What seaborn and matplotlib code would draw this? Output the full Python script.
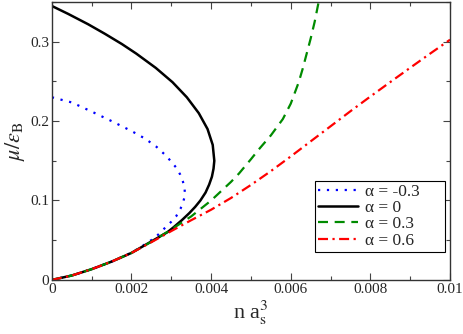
import matplotlib
matplotlib.use("Agg")
import matplotlib.pyplot as plt
from matplotlib.ticker import MultipleLocator, FormatStrFormatter
import seaborn as sns

# curves (n a_s^3, mu/eps_B)
x_m03 = [0, 0.0005, 0.001, 0.0015, 0.002, 0.00234, 0.00263, 0.00288, 0.00312, 0.00322, 0.00329,
         0.00333, 0.00334, 0.00333, 0.0033, 0.00323, 0.00312, 0.003, 0.0028, 0.0026, 0.0023,
         0.002, 0.0015, 0.001, 0.0005, 0]
y_m03 = [0.230, 0.2235, 0.212, 0.200, 0.1875, 0.178, 0.1675, 0.1558, 0.1416, 0.133, 0.124,
         0.117, 0.110, 0.104, 0.0985, 0.0895, 0.080, 0.0733, 0.0635, 0.0535, 0.0435,
         0.0342, 0.023, 0.0135, 0.0055, 0]

x_0 = [0, 0.00041, 0.00091, 0.00133, 0.00176, 0.00212, 0.00261, 0.00303, 0.00339, 0.00369,
       0.00391, 0.00404, 0.00408, 0.00406, 0.00402, 0.00395, 0.00386, 0.00373, 0.0036, 0.00345,
       0.00326, 0.00305, 0.0029, 0.00245, 0.002, 0.0015, 0.001, 0.0005, 0]
y_0 = [0.345, 0.335, 0.322, 0.310, 0.297, 0.285, 0.267, 0.249, 0.230, 0.210,
       0.190, 0.170, 0.150, 0.140, 0.130, 0.120, 0.110, 0.100, 0.092, 0.084,
       0.075, 0.066, 0.060, 0.047, 0.034, 0.023, 0.0135, 0.0055, 0]

x_03 = [0, 0.0005, 0.001, 0.0015, 0.002, 0.0025, 0.003, 0.0035, 0.004, 0.0045, 0.0047, 0.005,
        0.0052, 0.0055, 0.0058, 0.006, 0.0062, 0.0063, 0.0064, 0.0065, 0.0066, 0.0067, 0.00675]
y_03 = [0, 0.0055, 0.0135, 0.023, 0.034, 0.048, 0.0635, 0.080, 0.100, 0.1235, 0.134, 0.152,
        0.1645, 0.182, 0.2025, 0.222, 0.249, 0.266, 0.285, 0.304, 0.325, 0.350, 0.363]

x_06 = [0, 0.0005, 0.001, 0.0015, 0.002, 0.0025, 0.003, 0.0035, 0.004, 0.0045, 0.005, 0.0055,
        0.006, 0.0065, 0.007, 0.0075, 0.008, 0.0085, 0.009, 0.0095, 0.01]
y_06 = [0, 0.0055, 0.0135, 0.023, 0.034, 0.0475, 0.0615, 0.0752, 0.0884, 0.1032, 0.1196, 0.137,
        0.1555, 0.1745, 0.1935, 0.2125, 0.231, 0.2492, 0.2672, 0.285, 0.3025]

labels = ["\u03b1 = -0.3", "\u03b1 = 0", "\u03b1 = 0.3", "\u03b1 = 0.6"]

sns.set_style("ticks")
plt.rcParams["font.family"] = ["Liberation Serif", "DejaVu Serif"]
plt.rcParams["mathtext.fontset"] = "stix"

fig, ax = plt.subplots(figsize=(4.63, 3.34), dpi=100)
fig.subplots_adjust(left=0.112, right=0.972, bottom=0.162, top=0.994)

sns.lineplot(x=x_m03, y=y_m03, sort=False, estimator=None, ax=ax, color="#0000ff",
             linewidth=1.6, linestyle=(0, (1, 3)), label=labels[0])
sns.lineplot(x=x_0, y=y_0, sort=False, estimator=None, ax=ax, color="black",
             linewidth=1.8, linestyle="-", label=labels[1])
sns.lineplot(x=x_03, y=y_03, sort=False, estimator=None, ax=ax, color="#008b00",
             linewidth=1.6, linestyle=(0, (4.5, 3)), label=labels[2])
sns.lineplot(x=x_06, y=y_06, sort=False, estimator=None, ax=ax, color="#ff0000",
             linewidth=1.6, linestyle=(0, (4.5, 2, 1, 2)), label=labels[3])

ax.set_xlim(0, 0.01)
ax.set_ylim(0, 0.35)
ax.xaxis.set_major_locator(MultipleLocator(0.002))
ax.xaxis.set_minor_locator(MultipleLocator(0.001))
ax.yaxis.set_major_locator(MultipleLocator(0.1))
ax.yaxis.set_minor_locator(MultipleLocator(0.05))
ax.xaxis.set_major_formatter(FormatStrFormatter("%g"))
ax.yaxis.set_major_formatter(FormatStrFormatter("%g"))
ax.tick_params(which="both", direction="in", top=True, right=True, labelsize=11, width=0.8, color="#444444")
ax.tick_params(which="major", length=5, pad=2)
ax.tick_params(which="minor", length=3)
for s in ax.spines.values():
    s.set_linewidth(1.0)
    s.set_color("#333333")

ax.set_xlabel(r"n a$_{\mathrm{s}}^{3}$", fontsize=16, labelpad=2)
ax.set_ylabel(r"$\mu/\varepsilon_{\mathrm{B}}$", fontsize=16, labelpad=2)

# legend: xmgrace-like box with room on the right
leg = ax.legend([h for h in ax.get_lines()], [l + "     " for l in labels],
                loc="lower right", bbox_to_anchor=(0.988, 0.1), borderaxespad=0,
                fontsize=12.5, handlelength=2.3, handletextpad=0.4, labelspacing=0.0,
                borderpad=0.2, fancybox=False, framealpha=1, edgecolor="black")
leg.get_frame().set_linewidth(0.8)

fig.savefig("out.png", dpi=100)
